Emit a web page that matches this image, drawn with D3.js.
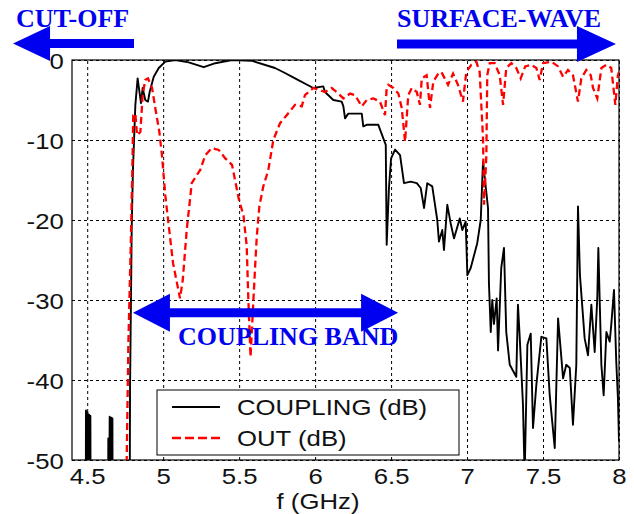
<!DOCTYPE html>
<html>
<head>
<meta charset="utf-8">
<script src="https://cdn.jsdelivr.net/npm/d3@7"></script>
<style>
  body { margin: 0; background: #fff; }
  svg { display: block; }
</style>
</head>
<body>
<svg width="634" height="514"></svg>
<script>
// COUPLING (dB) trace
const couplingF = [4.490, 4.492, 4.494, 4.497, 4.500, 4.503, 4.506, 4.509, 4.512, 4.515, 4.518, 4.521, 4.523,
  4.637, 4.639, 4.641, 4.644, 4.646, 4.648, 4.651, 4.654, 4.657, 4.660, 4.663, 4.666, 4.668,
  4.779, 4.782, 4.793, 4.801, 4.817, 4.832, 4.854, 4.865, 4.882, 4.900, 4.911, 4.938, 4.971,
  5.014, 5.080, 5.168, 5.267, 5.343, 5.453, 5.585, 5.736, 5.789, 5.868, 5.988,
  6.054, 6.065, 6.120, 6.175, 6.186, 6.197, 6.218, 6.307, 6.317, 6.340, 6.416, 6.449, 6.465,
  6.471, 6.486, 6.500, 6.526, 6.559, 6.585, 6.629, 6.669, 6.695, 6.717, 6.738, 6.771, 6.804,
  6.815, 6.837, 6.848, 6.870, 6.892, 6.914, 6.952, 6.969, 6.991, 7.002, 7.024, 7.067, 7.090,
  7.105, 7.116, 7.138, 7.144, 7.156, 7.166, 7.177, 7.195, 7.204, 7.225, 7.243, 7.258, 7.281,
  7.324, 7.335, 7.347, 7.368, 7.379, 7.397, 7.419, 7.434, 7.456, 7.489, 7.522, 7.544, 7.577,
  7.599, 7.632, 7.653, 7.676, 7.697, 7.719, 7.730, 7.743, 7.774, 7.796, 7.818, 7.840, 7.857,
  7.864, 7.884, 7.899, 7.917, 7.939, 7.949, 7.967, 7.982, 7.993, 8.000];
const couplingDb = [-60, -43.8, -52, -44, -53, -44.1, -52, -44.3, -53, -44.4, -52, -44.5, -60,
  -60, -47.3, -52, -47.3, -52, -44.6, -53, -44.7, -52, -44.7, -53, -44.8, -60,
  -60, -41, -21, -13.75, -5.6, -2.3, -5.4, -3.5, -5, -5.2, -4, -2.1, -1.0,
  -0.2, 0, -0.3, -0.9, -0.4, 0, -0.1, -1.0, -1.5, -2.3, -3.5,
  -3.3, -4, -5, -5.2, -5.8, -7.3, -6.7, -6.7, -8.3, -8.1, -8.1, -9.8, -10.6,
  -23.1, -16, -12.3, -11.2, -11.9, -15.4, -15.2, -15.4, -16, -18.5, -15.4, -15.8, -20,
  -22.7, -21.25, -23.75, -18.1, -20.4, -22.3, -19.8, -21.25, -20.2, -26.9, -26, -22.9, -20,
  -12.7, -14.6, -18.5, -27.9, -34, -30, -33, -29.8, -36.3, -26, -23.5, -34, -38.1,
  -39.6, -30.6, -34.8, -43.1, -52, -35.6, -34.2, -46, -40.6, -34.6, -34.8, -41.9, -48.5,
  -32.3, -39.8, -38.1, -38.5, -45.6, -38.1, -18.3, -26.9, -34.8, -36.9, -30.6, -36.5, -29.8,
  -23.5, -38.1, -41.9, -34, -35.2, -33.1, -28.75, -37.7, -42.3, -47.7];

// OUT (dB) trace
const outF = [4.758, 4.760, 4.771, 4.788, 4.797, 4.803, 4.817, 4.828, 4.850, 4.865, 4.882, 4.900,
  4.927, 4.948, 4.975, 4.992, 5.014, 5.036, 5.065, 5.111, 5.129, 5.155, 5.188, 5.221, 5.244,
  5.277, 5.321, 5.366, 5.409, 5.453, 5.475, 5.497, 5.529, 5.550, 5.560, 5.575, 5.604, 5.616,
  5.633, 5.659, 5.692, 5.725, 5.769, 5.813, 5.868, 5.912, 5.933, 5.988, 6.065, 6.109, 6.153,
  6.186, 6.230, 6.263, 6.307, 6.340, 6.383, 6.427, 6.460, 6.471, 6.482, 6.515, 6.548, 6.570,
  6.592, 6.613, 6.636, 6.669, 6.690, 6.702, 6.734, 6.756, 6.778, 6.811, 6.831, 6.875, 6.908,
  6.940, 6.973, 6.995, 7.028, 7.061, 7.083, 7.105, 7.112, 7.127, 7.133, 7.149, 7.182, 7.215,
  7.237, 7.258, 7.291, 7.324, 7.353, 7.383, 7.423, 7.456, 7.478, 7.500, 7.554, 7.599, 7.632,
  7.664, 7.697, 7.730, 7.752, 7.785, 7.814, 7.829, 7.857, 7.884, 7.917, 7.949, 7.976, 7.993, 8.000];
const outDb = [-60, -50, -35.4, -22, -13.75, -6.9, -6.7, -9.4, -9, -4.4, -2.5, -2.3,
  -3.5, -6, -9, -11.9, -16.9, -20.6, -25.4, -29.8, -27.5, -21.25, -15.4, -14.4, -13.75,
  -11.9, -11, -11.25, -12.3, -13.1, -15.2, -17.3, -19.5, -23.3, -29.6, -37.1, -26.25, -22.1,
  -18.3, -15.8, -13.75, -10, -7.9, -6.9, -5.6, -5.8, -4.4, -3.5, -4, -3.5, -4.2,
  -4.8, -4.2, -4.4, -5.8, -5, -4.8, -5.2, -6.9, -3.5, -3.1, -3.5, -4.2, -6,
  -10.2, -4.4, -3.5, -4, -5.6, -2.3, -1.9, -6, -2.7, -1.7, -1.5, -3.1, -1.7,
  -3.1, -5.2, -1.5, -0.6, -0.2, -1.5, -9.8, -18.1, -11.9, -1.9, -0.4, -0.4, -1.9,
  -5.6, -1, -0.4, -1, -2.3, -0.8, -0.6, -1, -2.5, -0.4, -0.2, -0.8, -2.1,
  -1.25, -1.9, -5.2, -2.3, -1.25, -1.9, -3.5, -4.8, -1, -0.6, -1, -5.6, -1.9, -1.5];

const xTicks = [4.5, 5, 5.5, 6, 6.5, 7, 7.5, 8];
const yTicks = [0, -10, -20, -30, -40, -50];
const seriesNames = ["COUPLING (dB)", "OUT (dB)"];

const svg = d3.select("svg");
const plotL = 72, plotR = 619, plotT = 60, plotB = 460;
const blue = "#0000f0";
const sans = "'Liberation Sans', Arial, Helvetica, sans-serif";
const serif = "'Liberation Serif', 'Times New Roman', serif";
const stretch = 1.17;

const x = d3.scaleLinear().domain([4.4, 8]).range([plotL, plotR]);
const y = d3.scaleLinear().domain([-50, 0]).range([plotB, plotT]);

svg.append("defs").append("clipPath").attr("id", "plot")
  .append("rect").attr("x", plotL).attr("y", plotT)
  .attr("width", plotR - plotL).attr("height", plotB - plotT);

// grid + tick labels (plain hyphen for negatives, like the original)
const plain = d => String(d);
const gx = svg.append("g")
  .attr("transform", `translate(0,${plotB})`)
  .call(d3.axisBottom(x).tickValues(xTicks).tickSize(-(plotB - plotT)).tickPadding(8)
    .tickFormat(plain));
const gy = svg.append("g")
  .attr("transform", `translate(${plotL},0)`)
  .call(d3.axisLeft(y).tickValues(yTicks).tickSize(-(plotR - plotL)).tickPadding(7)
    .tickFormat(plain));

[gx, gy].forEach(g => {
  g.select(".domain").remove();
  g.selectAll(".tick line")
    .attr("stroke", "#000").attr("stroke-width", 1).attr("stroke-dasharray", "3,3");
  g.selectAll(".tick text")
    .attr("fill", "#111")
    .style("font-family", sans).style("font-size", "22px")
    .attr("transform", `scale(${stretch},1)`);
});
gy.selectAll(".tick text").attr("dy", "0.4em");

// frame
svg.append("rect")
  .attr("x", plotL).attr("y", plotT)
  .attr("width", plotR - plotL).attr("height", plotB - plotT)
  .attr("fill", "none").attr("stroke", "#000").attr("stroke-width", 1.2);

const line = d3.line().x(d => x(d[0])).y(d => y(d[1]));
const plot = svg.append("g").attr("clip-path", "url(#plot)");

plot.append("path")
  .datum(couplingF.map((f, i) => [f, couplingDb[i]]))
  .attr("d", line)
  .attr("fill", "none").attr("stroke", "#000").attr("stroke-width", 1.9)
  .attr("stroke-linejoin", "round");

plot.append("path")
  .datum(outF.map((f, i) => [f, outDb[i]]))
  .attr("d", line)
  .attr("fill", "none").attr("stroke", "#f00").attr("stroke-width", 2.3)
  .attr("stroke-dasharray", "7,4");

// x label
svg.append("text")
  .attr("transform", `translate(318,509) scale(${stretch},1)`)
  .attr("text-anchor", "middle")
  .style("font-family", sans).style("font-size", "22px").attr("fill", "#111")
  .text("f (GHz)");

// legend
const legend = svg.append("g").attr("transform", "translate(157,390)");
legend.append("rect").attr("width", 302).attr("height", 65)
  .attr("fill", "#fff").attr("stroke", "#000").attr("stroke-width", 1);
seriesNames.forEach((name, i) => {
  const ly = 17 + i * 31;
  legend.append("line")
    .attr("x1", 15).attr("x2", 63).attr("y1", ly).attr("y2", ly)
    .attr("stroke", i === 0 ? "#000" : "#f00")
    .attr("stroke-width", i === 0 ? 1.8 : 2.3)
    .attr("stroke-dasharray", i === 0 ? null : "9,4");
  legend.append("text")
    .attr("transform", `translate(80,${ly + 8}) scale(${stretch},1)`)
    .style("font-family", sans).style("font-size", "22px").attr("fill", "#111")
    .text(name);
});

// blue annotation arrows
function arrow(f1, f2, db, shaft, headLen, headH, both, dir) {
  const yc = y(db), x1 = x(f1), x2 = x(f2);
  const p = d3.path();
  if (both) {
    p.moveTo(x1, yc);
    p.lineTo(x1 + headLen, yc - headH / 2);
    p.lineTo(x1 + headLen, yc - shaft / 2);
    p.lineTo(x2 - headLen, yc - shaft / 2);
    p.lineTo(x2 - headLen, yc - headH / 2);
    p.lineTo(x2, yc);
    p.lineTo(x2 - headLen, yc + headH / 2);
    p.lineTo(x2 - headLen, yc + shaft / 2);
    p.lineTo(x1 + headLen, yc + shaft / 2);
    p.lineTo(x1 + headLen, yc + headH / 2);
  } else if (dir < 0) {
    p.moveTo(x1, yc);
    p.lineTo(x1 + headLen, yc - headH / 2);
    p.lineTo(x1 + headLen, yc - shaft / 2);
    p.lineTo(x2, yc - shaft / 2);
    p.lineTo(x2, yc + shaft / 2);
    p.lineTo(x1 + headLen, yc + shaft / 2);
    p.lineTo(x1 + headLen, yc + headH / 2);
  } else {
    p.moveTo(x2, yc);
    p.lineTo(x2 - headLen, yc - headH / 2);
    p.lineTo(x2 - headLen, yc - shaft / 2);
    p.lineTo(x1, yc - shaft / 2);
    p.lineTo(x1, yc + shaft / 2);
    p.lineTo(x2 - headLen, yc + shaft / 2);
    p.lineTo(x2 - headLen, yc + headH / 2);
  }
  p.closePath();
  svg.append("path").attr("d", p.toString()).attr("fill", blue);
}

arrow(4.012, 4.808, 2.06, 9, 37, 35, false, -1);
arrow(6.539, 7.980, 2.0, 9, 39, 36, false, 1);
arrow(4.801, 6.546, -31.6, 9, 37, 38, true, 0);

const notes = [
  { text: "CUT-OFF", x: 16, y: 27 },
  { text: "SURFACE-WAVE", x: 397, y: 27 },
  { text: "COUPLING BAND", x: 178, y: 345 }
];
svg.selectAll(".note").data(notes).enter().append("text")
  .attr("class", "note")
  .attr("x", d => d.x).attr("y", d => d.y)
  .style("font-family", serif).style("font-size", "26px").style("font-weight", "bold")
  .attr("fill", blue)
  .text(d => d.text);
</script>
</body>
</html>
